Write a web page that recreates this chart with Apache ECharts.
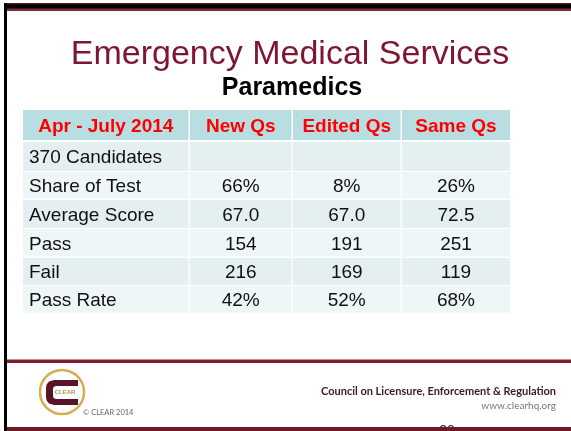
<!DOCTYPE html>
<html><head><meta charset="utf-8">
<script src="https://cdn.jsdelivr.net/npm/echarts@6/dist/echarts.min.js"></script>
<style>html,body{margin:0;padding:0;background:#fff}#c{width:571px;height:431px}</style>
</head><body><div id="c"></div>
<script>
// ---- data ----
const titleText = 'Emergency Medical Services';
const subtitleText = 'Paramedics';
const headers = ['Apr - July 2014', 'New Qs', 'Edited Qs', 'Same Qs'];
const rowLabels = ['370 Candidates', 'Share of Test', 'Average Score', 'Pass', 'Fail', 'Pass Rate'];
const shareOfTest = [66, 8, 26];        // percent: New, Edited, Same
const averageScore = [67.0, 67.0, 72.5];
const passCount = [154, 191, 251];
const failCount = [216, 169, 119];
const passRate = [42, 52, 68];          // percent
const footerOrg = 'Council on Licensure, Enforcement & Regulation';
const footerUrl = 'www.clearhq.org';
const footerCopy = '\u00A9 CLEAR 2014';
const slideNumber = '20';

// ---- layout (not data) ----
const colEdges = [0, 167, 270, 379, 487];
const rowEdges = [0, 32, 62, 90, 119, 148, 176, 204];

const rowValues = [
  ['', '', ''],
  shareOfTest.map(v => v + '%'),
  averageScore.map(v => v.toFixed(1)),
  passCount.map(String),
  failCount.map(String),
  passRate.map(v => v + '%')
];
const cells = [];
headers.forEach((h, c) => cells.push([c, 0, h]));
rowLabels.forEach((lab, r) => {
  cells.push([0, r + 1, lab]);
  rowValues[r].forEach((v, c) => cells.push([c + 1, r + 1, v]));
});

const FONT = '"Liberation Sans", Arial, sans-serif';

function renderItem(params, api) {
  const c = api.value(0), r = api.value(1);
  const text = cells[params.dataIndex][2];
  const p0 = api.coord([colEdges[c], rowEdges[r]]);
  const p1 = api.coord([colEdges[c + 1], rowEdges[r + 1]]);
  const x = p0[0], y = p0[1];
  const w = p1[0] - p0[0] - (c < 3 ? 1.5 : 0);
  const h = p1[1] - p0[1] - (r === 0 ? 2 : 1.2);
  const fill = r === 0 ? '#b9dee2' : (r % 2 === 1 ? '#e3eff1' : '#eff6f8');
  const isHeader = r === 0;
  const leftAlign = !isHeader && c === 0;
  return {
    type: 'group',
    children: [
      { type: 'rect', shape: { x, y, width: w, height: h }, style: { fill } },
      {
        type: 'text',
        x: leftAlign ? x + 6 : x + w / 2,
        y: y + h / 2 + (isHeader ? 1.5 : 1.5),
        style: {
          text,
          fill: isHeader ? '#ff0000' : '#111',
          font: (isHeader ? 'bold ' : '') + '19px ' + FONT,
          align: leftAlign ? 'left' : 'center',
          verticalAlign: 'middle'
        }
      }
    ]
  };
}

const cPoints = [[78,380],[54,380],[49,381.5],[46.6,384.5],[46,388],[46,397],[46.6,400.5],[49,403.5],[54,405],[78,405],[78,399],[56,399],[53.6,398],[53,396],[53,389],[53.6,387],[56,386],[78,386]];

const chart = echarts.init(document.getElementById('c'), null, { renderer: 'canvas' });
chart.setOption({
  backgroundColor: '#ffffff',
  animation: false,
  grid: { left: 23, top: 110, width: 487, height: 204 },
  xAxis: { type: 'value', min: 0, max: 487, show: false },
  yAxis: { type: 'value', min: 0, max: 204, inverse: true, show: false },
  series: [{
    type: 'custom',
    renderItem,
    data: cells.map(d => [d[0], d[1]]),
    clip: false
  }],
  graphic: [
    // slide frame
    { type: 'rect', shape: { x: 4, y: 3, width: 567, height: 8 }, style: { fill: '#000' }, z: 10 },
    { type: 'rect', shape: { x: 4, y: 3, width: 567, height: 1.2 }, style: { fill: '#6e1a26' }, z: 11 },
    { type: 'rect', shape: { x: 4, y: 8.5, width: 567, height: 2.5 }, style: { fill: '#7d2e38' }, z: 11 },
    { type: 'rect', shape: { x: 4, y: 3, width: 3, height: 428 }, style: { fill: '#000' }, z: 12 },
    { type: 'rect', shape: { x: 7, y: 359.5, width: 564, height: 3.5 }, style: { fill: '#7d2030' }, z: 10 },
    // titles
    { type: 'text', x: 290, y: 55, z: 10, style: { text: titleText, fill: '#7e1631', font: '34px ' + FONT, align: 'center', verticalAlign: 'middle' } },
    { type: 'text', x: 292, y: 88, z: 10, style: { text: subtitleText, fill: '#000', font: 'bold 25px ' + FONT, align: 'center', verticalAlign: 'middle' } },
    // footer logo
    { type: 'circle', shape: { cx: 62, cy: 392, r: 22 }, style: { fill: '#fff', stroke: '#d6ad55', lineWidth: 2.5 }, z: 10 },
    { type: 'polygon', shape: { points: cPoints }, style: { fill: '#5a1428' }, z: 11 },
    { type: 'text', x: 65, y: 392.5, z: 12, style: { text: 'CLEAR', fill: '#b8924a', font: 'bold 6px ' + FONT, align: 'center', verticalAlign: 'middle' } },
    { type: 'text', x: 83, y: 413, z: 10, style: { text: footerCopy, fill: '#666', font: '7.5px Lato, ' + FONT, align: 'left', verticalAlign: 'middle' } },
    { type: 'text', x: 556, y: 391, z: 10, style: { text: footerOrg, fill: '#3a1c22', font: 'bold 11px Lato, ' + FONT, align: 'right', verticalAlign: 'middle' } },
    { type: 'text', x: 556, y: 406, z: 10, style: { text: footerUrl, fill: '#777', font: '10px Lato, ' + FONT, align: 'right', verticalAlign: 'middle' } },
    { type: 'text', x: 447, y: 431, z: 10, style: { text: slideNumber, fill: '#222', font: '14px ' + FONT, align: 'center', verticalAlign: 'middle' } },
    { type: 'rect', shape: { x: 7, y: 427, width: 564, height: 4 }, style: { fill: '#6e1a26' }, z: 13 }
  ]
});
</script>
</body></html>
